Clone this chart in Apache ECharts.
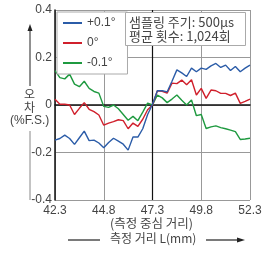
<!DOCTYPE html>
<html>
<head>
<meta charset="utf-8">
<script src="https://cdn.jsdelivr.net/npm/echarts@6/dist/echarts.min.js"></script>
<style>
  html, body { margin: 0; padding: 0; background: #fff; }
  #chart { width: 280px; height: 255px; }
</style>
</head>
<body>
<div id="chart"></div>
<script>
  // 측정 거리 (mm), 0.25mm 간격
  const distances = ['42.3','42.55','42.8','43.05','43.3','43.55','43.8','44.05','44.3','44.55',
    '44.8','45.05','45.3','45.55','45.8','46.05','46.3','46.55','46.8','47.05',
    '47.3','47.55','47.8','48.05','48.3','48.55','48.8','49.05','49.3','49.55',
    '49.8','50.05','50.3','50.55','50.8','51.05','51.3','51.55','51.8','52.05','52.3'];
  const yTicks = [-0.4, -0.2, 0, 0.2, 0.4];
  const seriesNames = ['+0.1°', '0°', '-0.1°'];
  // +0.1°
  const plus01 = [-0.148,-0.141,-0.127,-0.141,-0.166,-0.138,-0.110,-0.150,-0.148,-0.160,
    -0.180,-0.158,-0.140,-0.152,-0.165,-0.190,-0.135,-0.135,-0.100,-0.040,
    0.003,0.060,0.060,0.055,0.100,0.148,0.135,0.120,0.155,0.140,
    0.155,0.150,0.165,0.175,0.158,0.168,0.145,0.162,0.140,0.155,0.168];
  // 0°
  const zero = [0.024,0.003,0.003,0.000,-0.040,-0.014,0.010,-0.018,-0.028,-0.042,
    -0.085,-0.076,-0.070,-0.062,-0.066,-0.100,-0.076,-0.090,-0.060,-0.020,
    0.000,0.060,0.058,0.050,0.092,0.090,0.105,0.085,0.106,0.042,
    0.070,0.028,0.063,0.060,0.049,0.049,0.040,0.050,0.007,0.015,0.025];
  // -0.1°
  const minus01 = [0.145,0.115,0.110,0.130,0.088,0.077,0.100,0.070,0.057,0.050,
    -0.006,-0.010,0.000,-0.016,-0.040,-0.064,-0.048,-0.066,-0.030,0.008,
    0.000,0.042,0.030,0.010,0.025,0.042,0.020,0.000,0.021,-0.045,
    -0.040,-0.099,-0.092,-0.088,-0.095,-0.100,-0.106,-0.112,-0.145,-0.143,-0.140];

  const colors = ['#2b5ca8', '#d0202c', '#1f9a40'];
  const numFont = 'Liberation Sans';
  const krFont = 'Noto Sans CJK KR';

  const chart = echarts.init(document.getElementById('chart'), null, {renderer: 'canvas'});

  const series = [plus01, zero, minus01].map((d, i) => ({
    name: seriesNames[i],
    type: 'line',
    data: d,
    symbol: 'none',
    lineStyle: {width: 1.4, color: colors[i]},
    itemStyle: {color: colors[i]},
    z: 3 - i + 2
  }));
  // 중심 거리 세로선
  series[0].markLine = {
    silent: true, symbol: 'none', label: {show: false},
    lineStyle: {color: '#111', type: 'solid', width: 1.2},
    data: [{xAxis: '47.3'}],
    z: 1
  };

  chart.setOption({
    animation: false,
    color: colors,
    grid: {left: 55, right: 30, top: 10, bottom: 55},
    legend: {
      data: seriesNames,
      orient: 'vertical',
      left: 57, top: 12,
      icon: 'rect', itemWidth: 19, itemHeight: 2,
      itemGap: 8,
      padding: [5, 12, 5, 6],
      borderColor: '#aaa', borderWidth: 1,
      backgroundColor: '#fff',
      textStyle: {fontFamily: numFont, fontSize: 12, color: '#444'}
    },
    title: {
      text: '샘플링 주기: 500μs\n평균 횟수: 1,024회',
      left: 125, top: 12,
      padding: [3, 12, 3, 4],
      borderColor: '#aaa', borderWidth: 1,
      backgroundColor: '#fff',
      textStyle: {fontFamily: krFont, fontSize: 13, fontWeight: 'normal', color: '#444', lineHeight: 14}
    },
    xAxis: {
      type: 'category',
      data: distances,
      boundaryGap: false,
      axisLine: {lineStyle: {color: '#111', width: 1.5}},
      axisTick: {show: false},
      axisLabel: {interval: 9, margin: 5, color: '#444', fontFamily: numFont, fontSize: 12},
      splitLine: {show: true, interval: 9, lineStyle: {color: '#999', width: 1}}
    },
    yAxis: {
      type: 'value',
      min: -0.4, max: 0.4, interval: 0.2,
      axisLine: {show: true, lineStyle: {color: '#111', width: 1.5}},
      axisTick: {show: false},
      axisLabel: {
        margin: 3, color: '#444', fontFamily: numFont, fontSize: 12,
        formatter: v => (Math.abs(v) < 1e-9 ? '0' : v.toFixed(1))
      },
      splitLine: {show: true, lineStyle: {color: '#999', width: 1}}
    },
    graphic: [
      // 세로축 이름 (화살표 + 오차)
      {type: 'line', shape: {x1: 30, y1: 86, x2: 30, y2: 30}, style: {stroke: '#222', lineWidth: 1}},
      {type: 'polygon', shape: {points: [[30, 24], [27.5, 31], [32.5, 31]]}, style: {fill: '#222'}},
      {type: 'text', left: 24, top: 88, style: {text: '오', font: '12px "Noto Sans CJK KR"', fill: '#444'}},
      {type: 'text', left: 24, top: 101, style: {text: '차', font: '12px "Noto Sans CJK KR"', fill: '#444'}},
      {type: 'text', left: 10, top: 115, style: {text: '(%F.S.)', font: '12px "Liberation Sans"', fill: '#444'}},
      {type: 'line', shape: {x1: 30, y1: 131, x2: 30, y2: 200}, style: {stroke: '#888', lineWidth: 1}},
      // 가로축 이름
      {type: 'text', left: 110, top: 217, style: {text: '(측정 중심 거리)', font: '12.5px "Noto Sans CJK KR"', fill: '#444'}},
      {type: 'text', left: 110, top: 232, style: {text: '측정 거리 L(mm)', font: '12px "Noto Sans CJK KR"', fill: '#444'}},
      {type: 'line', shape: {x1: 68, y1: 240, x2: 100, y2: 240}, style: {stroke: '#222', lineWidth: 1.2}},
      {type: 'line', shape: {x1: 206, y1: 240, x2: 238, y2: 240}, style: {stroke: '#222', lineWidth: 1.2}},
      {type: 'polygon', shape: {points: [[245, 240], [237, 237.5], [237, 242.5]]}, style: {fill: '#222'}}
    ],
    series: series
  });
</script>
</body>
</html>
